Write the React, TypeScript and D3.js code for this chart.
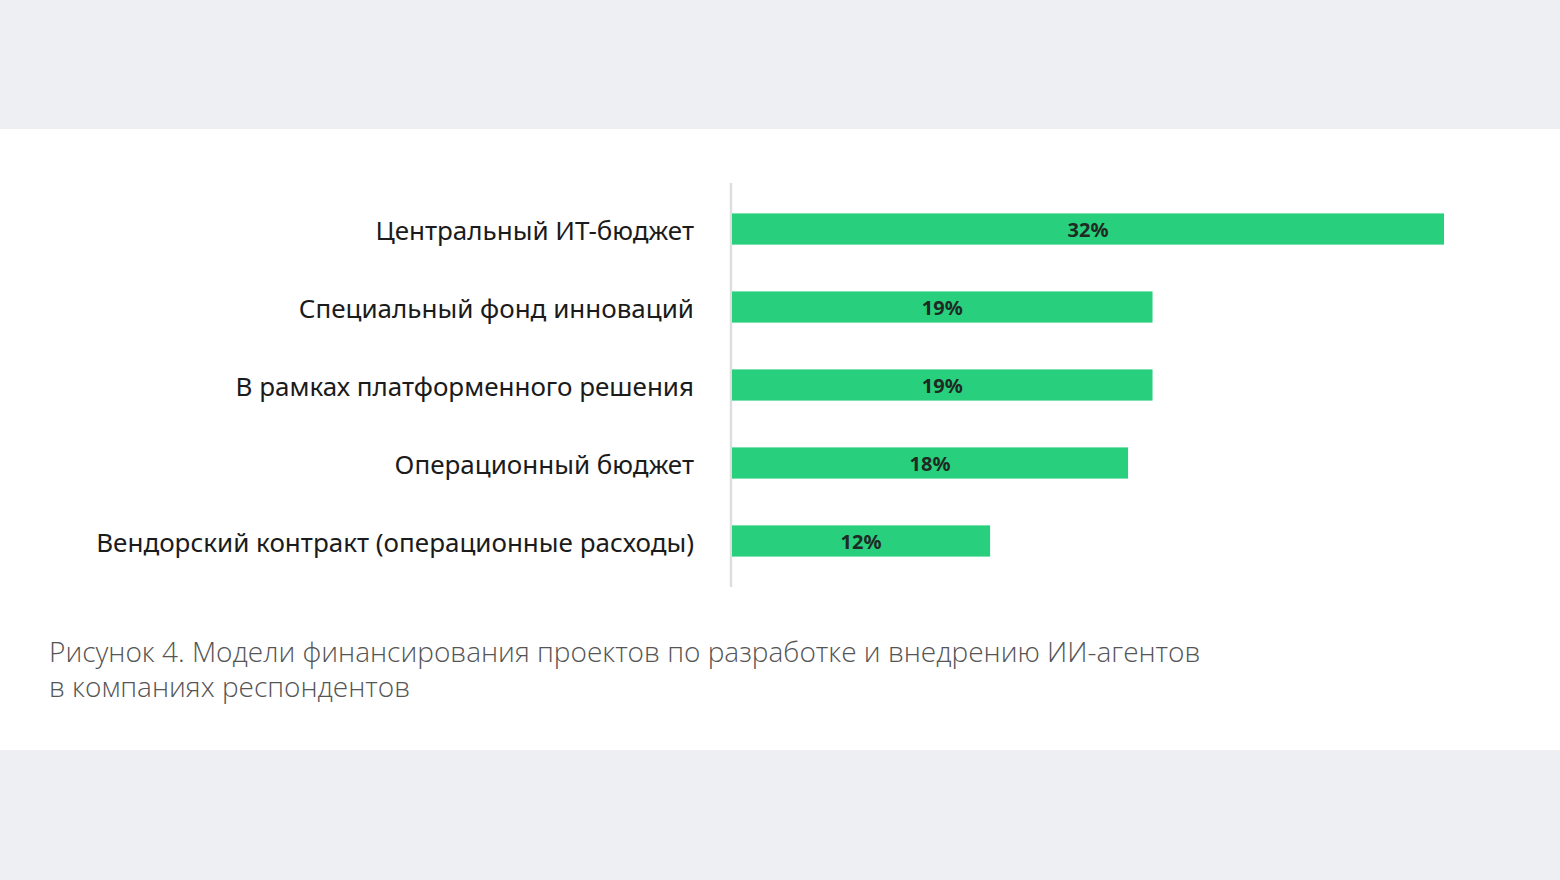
import React from "react";
import * as d3 from "d3";

// Данные графика
const categories = [
  "Центральный ИТ-бюджет",
  "Специальный фонд инноваций",
  "В рамках платформенного решения",
  "Операционный бюджет",
  "Вендорский контракт (операционные расходы)",
];
const values = [32, 18.9, 18.9, 17.8, 11.6];
const captionLines = [
  "Рисунок 4. Модели финансирования проектов по разработке и внедрению ИИ-агентов",
  "в компаниях респондентов",
];

const App: React.FC = () => {
  const width = 1560;
  const height = 880;
  const axisX = 731;

  const x = d3.scaleLinear().domain([0, 32]).range([axisX + 1, 1444]);

  const y = d3.scaleBand<string>()
    .domain(categories)
    .range([183, 587])
    .paddingInner(0.6)
    .paddingOuter(0.39);

  const fmt = (v: number) => `${d3.format(".0f")(v)}%`;
  const font = "'Noto Sans', 'Open Sans', sans-serif";

  return (
    <svg
      width={width}
      height={height}
      style={{ position: "absolute", left: 0, top: 0, display: "block" }}
    >
      <rect x={0} y={0} width={width} height={height} fill="#eeeff3" />
      <rect x={0} y={129} width={width} height={621} fill="#ffffff" />

      {/* Ось */}
      <line x1={axisX} x2={axisX} y1={183} y2={587} stroke="#dedede" strokeWidth={2.5} />

      {/* Подписи категорий */}
      {categories.map((c) => (
        <text
          key={c}
          x={694}
          y={(y(c) ?? 0) + y.bandwidth() / 2 + 2}
          dy="0.35em"
          textAnchor="end"
          fill="#1b1b1b"
          style={{ fontFamily: font, fontSize: 26 }}
        >
          {c}
        </text>
      ))}

      {/* Столбцы */}
      {categories.map((c, i) => (
        <g key={c}>
          <rect
            x={x(0)}
            y={y(c)}
            width={x(values[i]) - x(0)}
            height={y.bandwidth()}
            fill="#28cf7c"
          />
          <text
            x={(x(0) + x(values[i])) / 2}
            y={(y(c) ?? 0) + y.bandwidth() / 2 + 1}
            dy="0.36em"
            textAnchor="middle"
            fill="#1f2a24"
            style={{ fontFamily: font, fontSize: 20, fontWeight: 700 }}
          >
            {fmt(values[i])}
          </text>
        </g>
      ))}

      {/* Подпись рисунка */}
      {captionLines.map((line, i) => (
        <text
          key={i}
          x={49}
          y={662 + i * 35}
          fill="#555555"
          style={{ fontFamily: "'Open Sans', 'Noto Sans', sans-serif", fontSize: 28, fontWeight: 300 }}
        >
          {line}
        </text>
      ))}
    </svg>
  );
};

export default App;
